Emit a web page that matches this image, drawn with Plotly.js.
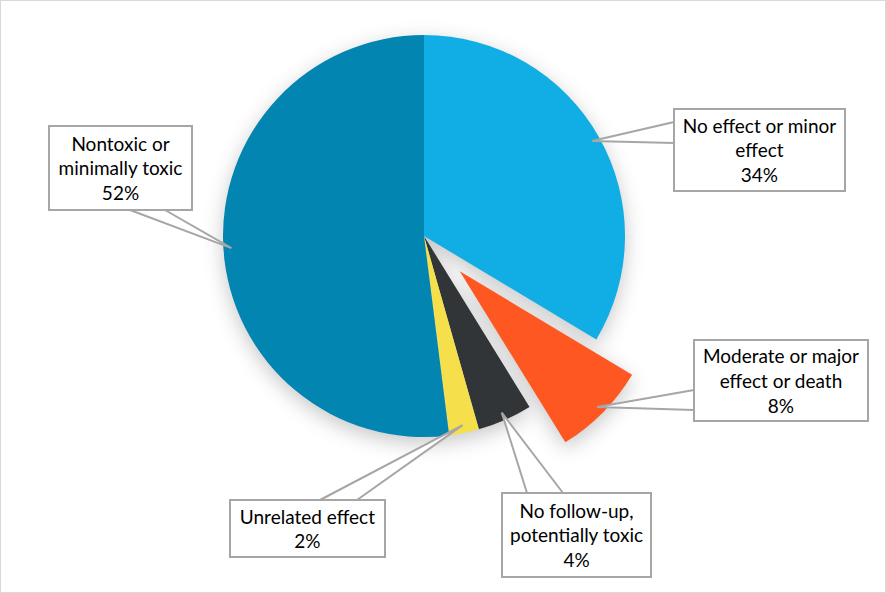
<!DOCTYPE html>
<html><head><meta charset="utf-8">
<script src="https://cdn.plot.ly/plotly-3.0.1.min.js"></script>
<style>
html,body{margin:0;padding:0;overflow:hidden;background:#fff;}
#wrap{position:relative;width:886px;height:593px;overflow:hidden;}
#chart{position:absolute;left:0;top:-20px;width:886px;height:613px;}
#frame{position:absolute;left:0;top:0;width:886px;height:593px;box-sizing:border-box;border:1px solid #d9d9d9;pointer-events:none;}
.pielayer{filter:drop-shadow(0px 6px 10px rgba(0,0,0,0.22));}
</style></head>
<body><div id="wrap"><div id="chart"></div><div id="frame"></div></div>
<script>
// ---- data ----
const categories = ["No effect or minor effect", "Moderate or major effect or death", "No follow-up, potentially toxic", "Unrelated effect", "Nontoxic or minimally toxic"];
const values = [33.6, 7.6, 4.4, 2.4, 52.0];
const labelLines = [["No effect or minor", "effect"], ["Moderate or major", "effect or death"], ["No follow-up,", "potentially toxic"], ["Unrelated effect"], ["Nontoxic or", "minimally toxic"]];
const colors = ["#10AEE4", "#FF5722", "#323538", "#F5DF4B", "#0385B2"];
const pulls = [0, 0.25, 0, 0, 0];

// ---- layout (page pixels) ----
const W = 886, H = 613, OFF = 20;
const CX = 424, CY = 236, R = 201;
const boxes = [ // cx, cy, w, h
  [759.5, 150, 171, 82],
  [781, 380.5, 174, 81],
  [576.5, 535, 149, 84],
  [307.5, 528.5, 155, 57],
  [120.5, 168, 143, 84]
];
const wedgeBase = [ // x1,y1,x2,y2
  [674, 122, 674, 143],
  [694, 390, 694, 410],
  [527, 493, 563, 493],
  [320, 500, 357, 500],
  [130, 210, 165, 210]
];
const px = x => x / W;
const py = y => 1 - (y + OFF) / H;

const maxPull = Math.max(...pulls);
const half = R * (1 + maxPull);

const total = values.reduce((a, b) => a + b, 0);
let cum = 0;
const shapes = [], annotations = [];
values.forEach((v, i) => {
  const mid = (cum + v / 2) / total * 2 * Math.PI;
  cum += v;
  const dx = Math.sin(mid), dy = -Math.cos(mid);
  const off = pulls[i] * R;
  const rr = R * 0.96;
  const tx = CX + dx * (off + rr), ty = CY + dy * (off + rr);
  const b = wedgeBase[i];
  shapes.push({
    type: 'path', xref: 'paper', yref: 'paper',
    path: `M${px(b[0])},${py(b[1])} L${px(tx)},${py(ty)} L${px(b[2])},${py(b[3])}`,
    fillcolor: '#ffffff', line: {color: '#a6a6a6', width: 2}
  });
  const bx = boxes[i];
  annotations.push({
    xref: 'paper', yref: 'paper', x: px(bx[0]), y: py(bx[1]),
    xanchor: 'center', yanchor: 'middle', showarrow: false,
    text: labelLines[i].join('<br>') + '<br>' + Math.round(v / total * 100) + '%',
    width: bx[2] - 2, height: bx[3] - 2, borderpad: 0, borderwidth: 2,
    bordercolor: '#a6a6a6', bgcolor: '#ffffff', align: 'center', valign: 'middle',
    font: {family: 'Lato, "Open Sans", sans-serif', size: 19, color: '#000000'}
  });
});

const trace = {
  type: 'pie', values: values, labels: categories, sort: false,
  direction: 'clockwise', rotation: 0, pull: pulls,
  marker: {colors: colors, line: {width: 0}},
  textinfo: 'none', hoverinfo: 'none', showlegend: false,
  domain: {x: [px(CX - half), px(CX + half)], y: [py(CY + half), py(CY - half)]}
};

Plotly.newPlot('chart', [trace], {
  width: W, height: H, margin: {l: 0, r: 0, t: 0, b: 0},
  paper_bgcolor: '#ffffff', plot_bgcolor: '#ffffff', showlegend: false,
  shapes: shapes, annotations: annotations
}, {staticPlot: true});
</script>
</body></html>
